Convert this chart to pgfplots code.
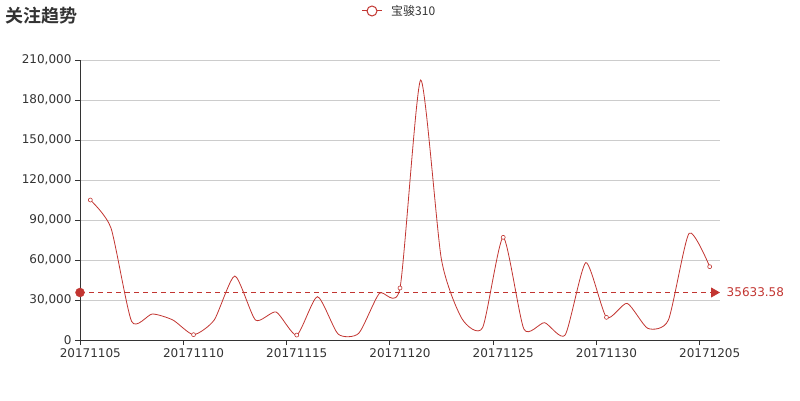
\documentclass[border=0pt]{standalone}
\usepackage{fontspec}
\setmainfont{DejaVu Sans}
\newfontfamily\cjk{Noto Sans CJK SC}
\newfontfamily\cjkb{Noto Sans CJK SC Bold}
\usepackage{pgfplots}
\pgfplotsset{compat=1.18}
\usetikzlibrary{arrows.meta}
\definecolor{ecred}{HTML}{C23531}
\definecolor{txt}{HTML}{333333}
\definecolor{gridc}{HTML}{CCCCCC}
\begin{document}
\begin{tikzpicture}[x=1pt,y=1pt]
\path[use as bounding box] (0,0) rectangle (800,400);
\node[anchor=west,inner sep=0pt,text=txt] at (5,384) {\fontsize{18}{18}\selectfont\cjkb 关注趋势};
\draw[ecred,line width=1pt] (362,389) -- (382,389);
\draw[ecred,fill=white,line width=1pt] (372,389) circle (5);
\node[anchor=west,inner sep=0pt,text=txt] at (391,389) {\fontsize{12}{12}\selectfont\cjk 宝骏310};
\begin{axis}[
  at={(80pt,60pt)}, anchor=origin,
  scale only axis, width=640pt, height=280pt,
  xmin=0, xmax=31, ymin=0, ymax=210000,
  axis x line=bottom, axis y line=left,
  axis line style={-, txt, line width=0.8pt},
  xtick={0,5,10,15,20,25,30},
  xticklabels={20171105,20171110,20171115,20171120,20171125,20171130,20171205},
  xticklabel style={xshift=10.32pt, font=\fontsize{12}{12}\selectfont, text=txt},
  ytick={0,30000,60000,90000,120000,150000,180000,210000},
  yticklabel style={font=\fontsize{12}{12}\selectfont, text=txt},
  /pgf/number format/.cd, fixed, 1000 sep={,}, assume math mode=true, /pgfplots/.cd,
  scaled y ticks=false,
  tick align=outside, major tick length=5pt,
  tick style={txt, line width=0.8pt},
  ymajorgrids, grid style={gridc, line width=0.8pt},
  clip=false,
]
\addplot[ecred, line width=0.8pt, smooth, tension=0.38,
  mark=*, mark repeat=5, mark phase=1, mark size=2pt,
  mark options={fill=white, draw=ecred, line width=0.6pt, solid}]
  table[x=x,y=y] {
x y
0.5 105000
1.5 84000
2.5 14000
3.5 19500
4.5 15000
5.5 4000
6.5 15000
7.5 48000
8.5 15000
9.5 21000
10.5 3700
11.5 32500
12.5 4500
13.5 5000
14.5 35000
15.5 39000
16.5 195000
17.5 61000
18.5 16000
19.5 9250
20.5 77000
21.5 8250
22.5 13000
23.5 3750
24.5 58000
25.5 17000
26.5 27500
27.5 8750
28.5 15000
29.5 80000
30.5 55000
};
\addplot[ecred, line width=0.8pt, dash pattern=on 5pt off 4pt, -{Triangle[length=9pt,width=10pt,fill=ecred]}]
  coordinates {(0,35633.58) (31,35633.58)}
  node[pos=1, anchor=west, text=ecred, font=\fontsize{12}{12}\selectfont, xshift=3pt] {35633.58};
\addplot[only marks, mark=*, mark size=4.5pt, ecred, mark options={fill=ecred, draw=ecred}]
  coordinates {(0,35633.58)};
\end{axis}
\end{tikzpicture}
\end{document}
